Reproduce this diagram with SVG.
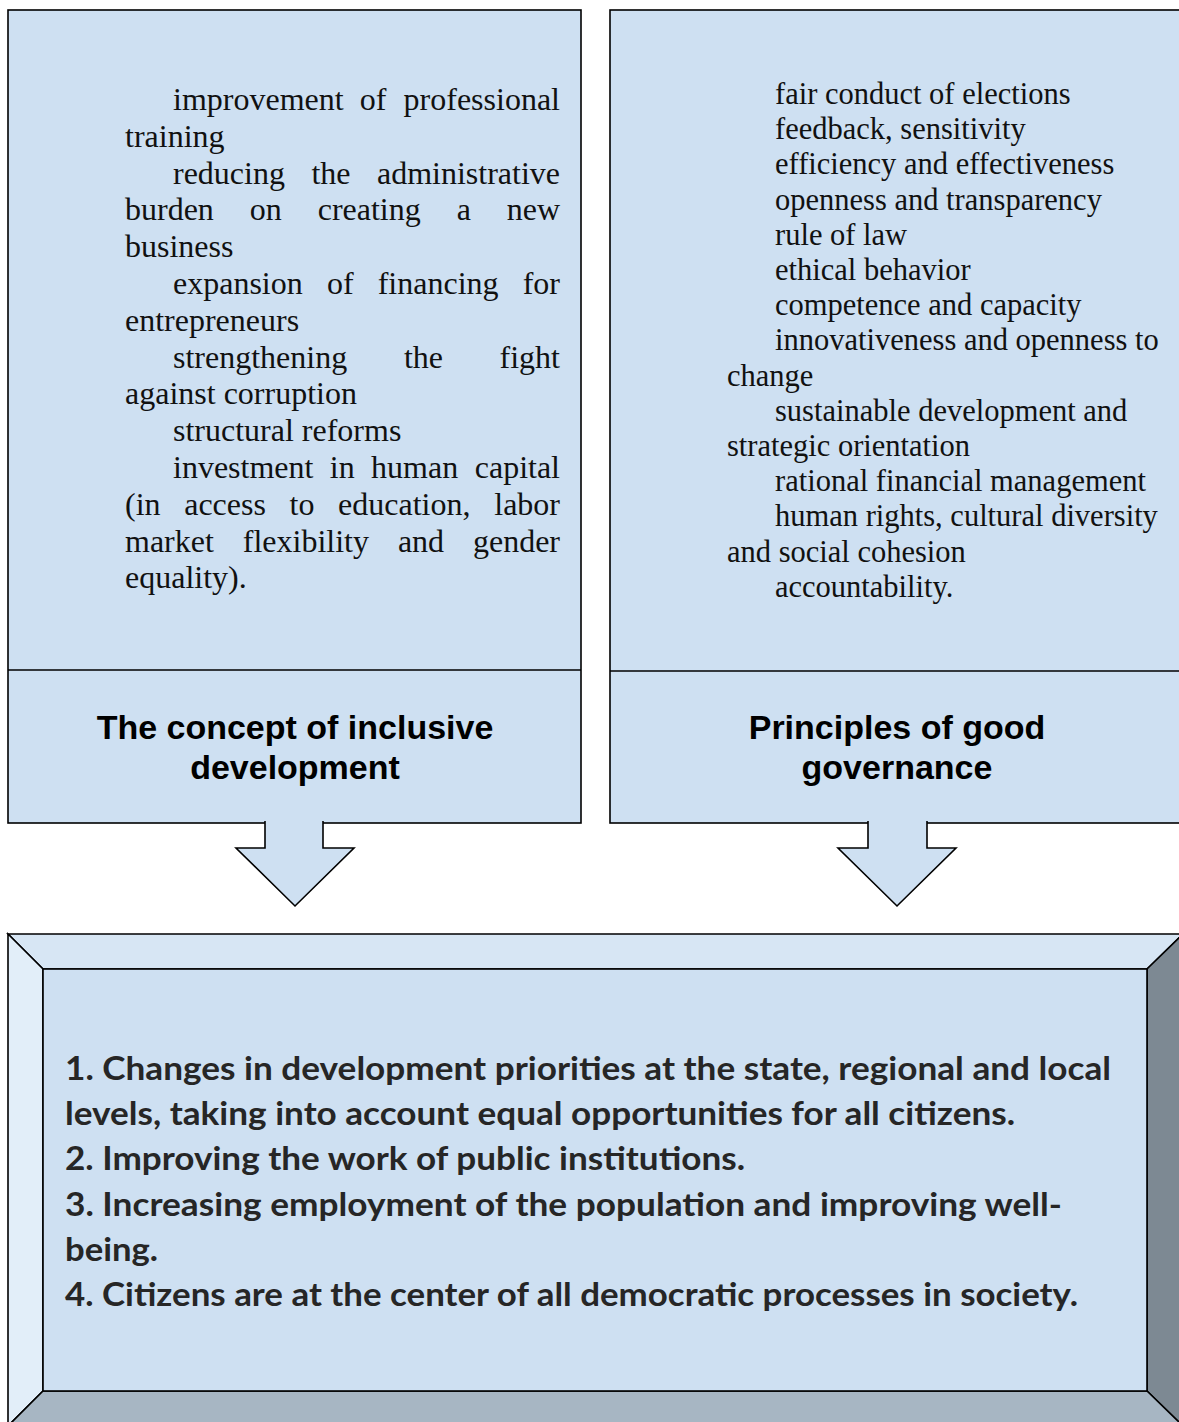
<svg xmlns="http://www.w3.org/2000/svg" width="1179" height="1422" viewBox="0 0 1179 1422">
<style>
.box{fill:#cee0f2;stroke:#000;stroke-width:1.6}
.ln{fill:none;stroke:#000;stroke-width:1.6}
.body{font-family:"Liberation Serif","Times New Roman",serif;fill:#111}
.l{font-size:32px}
.r{font-size:30.5px}
.title{font-family:"Liberation Sans",Arial,sans-serif;font-weight:bold;font-size:34px;fill:#000;text-anchor:middle}
.res{font-family:Lato,"Open Sans",sans-serif;font-weight:bold;font-size:33px;fill:#262626}
.e{text-anchor:end}
</style>
<rect width="1179" height="1422" fill="#fff"/>
<g id="node-inclusive">
<rect class="box" x="8" y="10" width="573" height="813"/>
<line class="ln" x1="8" y1="670" x2="581" y2="670"/>
<g class="body l">
<text y="110"><tspan x="173">improvement</tspan><tspan x="359.8">of</tspan><tspan x="560" class="e" text-anchor="end">professional</tspan></text>
<text x="125" y="146.8">training</text>
<text y="183.6"><tspan x="173">reducing</tspan><tspan x="311.4">the</tspan><tspan x="560" text-anchor="end">administrative</tspan></text>
<text y="220.4"><tspan x="125">burden</tspan><tspan x="249.8">on</tspan><tspan x="317.7">creating</tspan><tspan x="456.7">a</tspan><tspan x="560" text-anchor="end">new</tspan></text>
<text x="125" y="257.2">business</text>
<text y="294"><tspan x="173">expansion</tspan><tspan x="326.9">of</tspan><tspan x="377.7">financing</tspan><tspan x="560" text-anchor="end">for</tspan></text>
<text x="125" y="330.8">entrepreneurs</text>
<text y="367.6"><tspan x="173">strengthening</tspan><tspan x="403.9">the</tspan><tspan x="560" text-anchor="end">fight</tspan></text>
<text x="125" y="404.4">against corruption</text>
<text x="173" y="441.2">structural reforms</text>
<text y="478"><tspan x="173">investment</tspan><tspan x="329.8">in</tspan><tspan x="371.1">human</tspan><tspan x="560" text-anchor="end">capital</tspan></text>
<text y="514.8"><tspan x="125">(in</tspan><tspan x="184.2">access</tspan><tspan x="289.6">to</tspan><tspan x="338.1">education,</tspan><tspan x="560" text-anchor="end">labor</tspan></text>
<text y="551.6"><tspan x="125">market</tspan><tspan x="242.8">flexibility</tspan><tspan x="397.9">and</tspan><tspan x="560" text-anchor="end">gender</tspan></text>
<text x="125" y="588.4">equality).</text>
</g>
<text class="title" x="295" y="739">The concept of inclusive</text>
<text class="title" x="295" y="779">development</text>
</g>
<g id="node-governance">
<rect class="box" x="610" y="10" width="580" height="813"/>
<line class="ln" x1="610" y1="671" x2="1179" y2="671"/>
<g class="body r">
<text x="775" y="104">fair conduct of elections</text>
<text x="775" y="139.2">feedback, sensitivity</text>
<text x="775" y="174.4">efficiency and effectiveness</text>
<text x="775" y="209.6">openness and transparency</text>
<text x="775" y="244.8">rule of law</text>
<text x="775" y="280">ethical behavior</text>
<text x="775" y="315.2">competence and capacity</text>
<text x="775" y="350.4">innovativeness and openness to</text>
<text x="727" y="385.6">change</text>
<text x="775" y="420.8">sustainable development and</text>
<text x="727" y="456">strategic orientation</text>
<text x="775" y="491.2">rational financial management</text>
<text x="775" y="526.4">human rights, cultural diversity</text>
<text x="727" y="561.6">and social cohesion</text>
<text x="775" y="596.8">accountability.</text>
</g>
<text class="title" x="897" y="739">Principles of good</text>
<text class="title" x="897" y="779">governance</text>
</g>
<g id="connectors">
<path class="box" d="M265,821 V848 H236 L295,906 L354,848 H323 V821"/>
<path class="box" d="M868,821 V848 H838 L897,906 L956,848 H927 V821"/>
</g>
<g id="node-result">
<polygon points="8,934 1183,934 1147,969 43,969" fill="#d7e6f4" stroke="#000" stroke-width="1.6" stroke-linejoin="miter"/>
<polygon points="8,934 43,969 43,1391 8,1426" fill="#e2eef9" stroke="#000" stroke-width="1.6"/>
<polygon points="1183,934 1147,969 1147,1391 1183,1426" fill="#7d8993" stroke="#000" stroke-width="1.6"/>
<polygon points="43,1391 1147,1391 1183,1426 8,1426" fill="#a7b6c3" stroke="#000" stroke-width="1.6"/>
<rect x="43" y="969" width="1104" height="422" fill="#cee0f2" stroke="#000" stroke-width="1.6"/>
<text class="res" x="65" y="1080" textLength="1046" lengthAdjust="spacingAndGlyphs">1. Changes in development priorities at the state, regional and local</text>
<text class="res" x="65" y="1125" textLength="950" lengthAdjust="spacingAndGlyphs">levels, taking into account equal opportunities for all citizens.</text>
<text class="res" x="65" y="1170" textLength="680" lengthAdjust="spacingAndGlyphs">2. Improving the work of public institutions.</text>
<text class="res" x="65" y="1216" textLength="997" lengthAdjust="spacingAndGlyphs">3. Increasing employment of the population and improving well-</text>
<text class="res" x="65" y="1261" textLength="93" lengthAdjust="spacingAndGlyphs">being.</text>
<text class="res" x="65" y="1306" textLength="1013" lengthAdjust="spacingAndGlyphs">4. Citizens are at the center of all democratic processes in society.</text>
</g>
</svg>
